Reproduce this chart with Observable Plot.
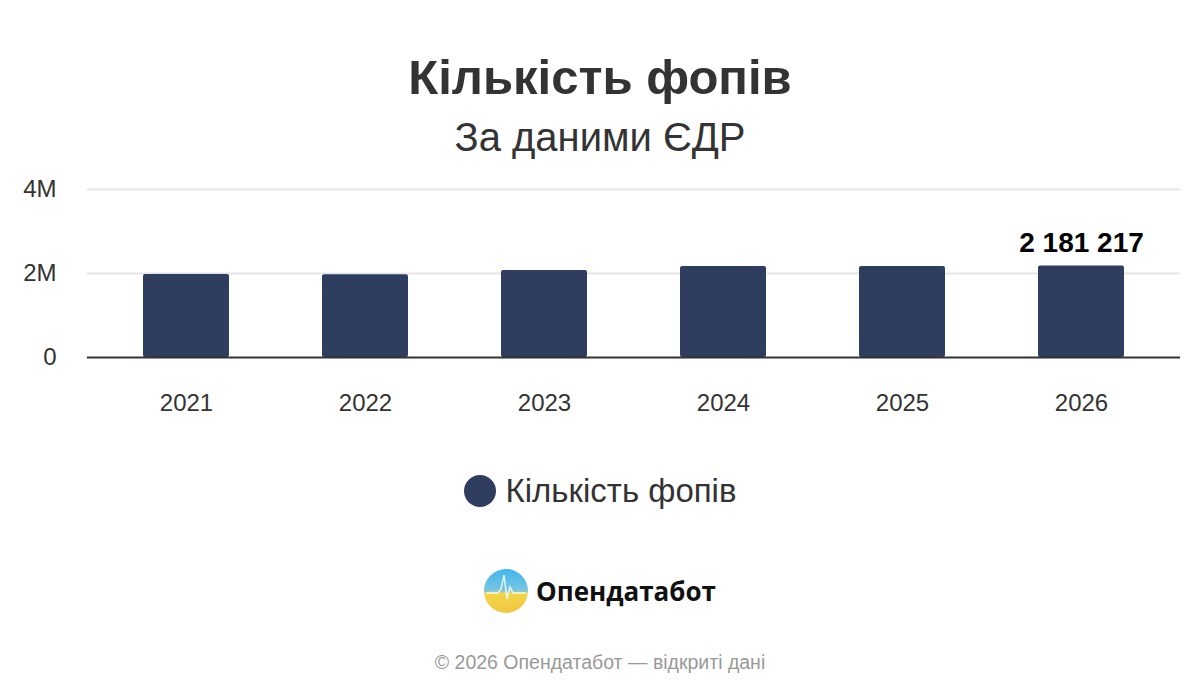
<!DOCTYPE html>
<html><head><meta charset="utf-8">
<script src="https://cdn.jsdelivr.net/npm/d3@7"></script>
<script src="https://cdn.jsdelivr.net/npm/@observablehq/plot@0.6"></script>
<style>
body{margin:0;background:#fff;font-family:"Liberation Sans",Arial,sans-serif;width:1200px;height:700px;overflow:hidden;position:relative}
#title{position:absolute;top:49px;left:0;width:1200px;text-align:center;font-size:49px;font-weight:bold;color:#333}
#subtitle{position:absolute;top:115px;left:0;width:1200px;text-align:center;font-size:40px;color:#333}
#chart{position:absolute;top:170px;left:0}
#legend{position:absolute;top:472px;left:0;width:1200px;display:flex;justify-content:center;align-items:center;font-size:33px;color:#333}
#legend .dot{width:32px;height:32px;border-radius:50%;background:#2f3e5f;margin-right:10px}
#logo{position:absolute;top:569px;left:0;width:1200px;display:flex;justify-content:center;align-items:center;font-family:"Open Sans",sans-serif;font-weight:bold;font-size:26px;color:#111}
#logo svg{margin-right:8px}
#footer{position:absolute;top:651px;left:0;width:1200px;text-align:center;font-size:19.5px;color:#999}
</style></head>
<body>
<div id="title">Кількість фопів</div>
<div id="subtitle">За даними ЄДР</div>
<div id="chart"></div>
<div id="legend"><div class="dot"></div><span>Кількість фопів</span></div>
<div id="logo"><svg width="44" height="44" viewBox="0 0 44 44">
<defs><linearGradient id="g" x1="0" y1="0" x2="0" y2="1"><stop offset="0" stop-color="#3fb6f0"/><stop offset="0.5" stop-color="#7cc6e0"/><stop offset="0.55" stop-color="#f3d64a"/><stop offset="1" stop-color="#f0c640"/></linearGradient></defs>
<circle cx="22" cy="22" r="22" fill="url(#g)"/>
<polyline points="2,24 14,24 17,20 20,6 23,30 26,18 29,24 42,24" fill="none" stroke="#fff" stroke-width="1.5" opacity="0.8"/>
</svg><span>Опендатабот</span></div>
<div id="footer">© 2026 Опендатабот — відкриті дані</div>
<script>
const years = ["2021","2022","2023","2024","2025","2026"];
const values = [1976000, 1972000, 2070000, 2165000, 2168000, 2181217];
const yTicks = [0, 2000000, 4000000];
const labelYear = "2026";

const data = years.map((y, i) => ({year: y, value: values[i]}));
const fmt = d3.formatLocale({decimal: ",", thousands: " ", grouping: [3], currency: ["", ""]}).format(",d");

const chart = Plot.plot({
  width: 1200,
  height: 260,
  marginLeft: 87,
  marginRight: 20,
  marginTop: 19,
  marginBottom: 73,
  style: {fontFamily: "Liberation Sans, Arial, sans-serif", fontSize: "24px", color: "#333", background: "transparent"},
  x: {domain: years, paddingInner: 0.52, paddingOuter: 0.3, label: null, tickSize: 0, tickPadding: 36},
  y: {domain: [0, 4000000], ticks: yTicks, label: null, tickSize: 0, tickPadding: 31, tickFormat: d => d === 0 ? "0" : d / 1e6 + "M"},
  marks: [
    Plot.gridY(yTicks.filter(d => d > 0), {stroke: "#e6e6e6", strokeOpacity: 1, strokeWidth: 2}),
    Plot.barY(data, {x: "year", y: "value", fill: "#2f3e5f", rx: 2}),
    Plot.ruleY([0], {stroke: "#333", strokeWidth: 2}),
    Plot.text(data.filter(d => d.year === labelYear), {x: "year", y: "value", text: d => fmt(d.value), dy: -23, fontSize: 28, fontWeight: "bold", fill: "#000"})
  ]
});
document.getElementById("chart").appendChild(chart);
</script>
</body></html>
